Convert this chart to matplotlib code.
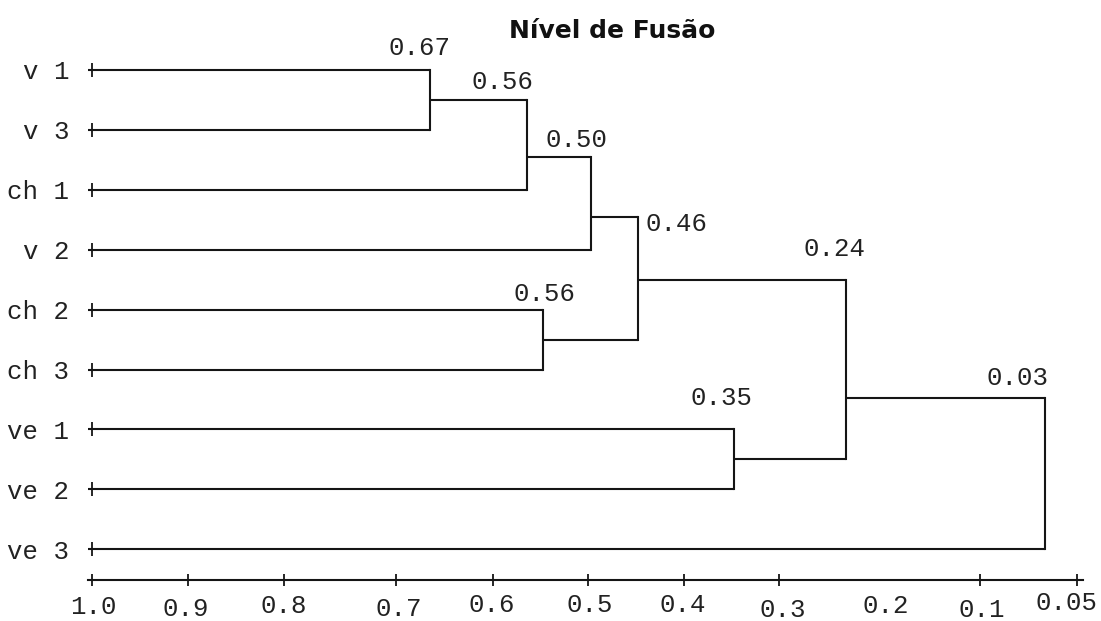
import matplotlib
matplotlib.use('Agg')
import matplotlib.pyplot as plt

# leaves, top to bottom
leaves = ['v 1', 'v 3', 'ch 1', 'v 2', 'ch 2', 'ch 3', 've 1', 've 2', 've 3']

# merges: ids 0-8 are leaves, merge k gets id 9 + k
merge_left = [0, 9, 10, 4, 11, 6, 13, 15]
merge_right = [1, 2, 3, 5, 12, 7, 14, 8]
merge_height = [0.657, 0.558, 0.493, 0.542, 0.446, 0.348, 0.234, 0.0325]
merge_labels = ['0.67', '0.56', '0.50', '0.56', '0.46', '0.35', '0.24', '0.03']
# row where the link of each merge leaves towards its parent
merge_link_row = [0.5, 1.45, 2.45, 4.5, 3.5, 6.5, 5.47, 7.0]

# axis of fusion level (reversed)
tick_values = [1.0, 0.9025, 0.805, 0.691, 0.593, 0.496, 0.399, 0.303, 0.194, 0.098, 0.0]
tick_labels = ['1.0', '0.9', '0.8', '0.7', '0.6', '0.5', '0.4', '0.3', '0.2', '0.1', '0.05']
tick_marked = [True, True, True, True, True, True, True, True, False, True, True]

# styling offsets (pixels)
merge_label_dx = [-10, -24.5, -15, 1.5, 38.5, -12.5, -11.5, -27]
merge_label_dy = [15, 11, 10, 9, -14, 24, 24, 13]
tick_label_dx = [1, -2.5, -0.5, 2.5, -1.5, 1.5, -1.5, 4, 0, 1.7, -10]
tick_label_dy = [34, 36.5, 33.5, 36.5, 32, 32, 32, 37, 33.5, 37, 30]

LINE = '#151515'
LW = 1.5
MONO = ['Liberation Mono', 'DejaVu Sans Mono']
FS = 18.5

fig = plt.figure(figsize=(11.01, 6.21), dpi=100)
ax = fig.add_axes([60 / 1101, 31 / 621, 1035 / 1101, 550 / 621])
ax.set_xlim(1.0325, -0.0183)
ax.set_ylim(8.68, -0.5)

leaf_start = 1.0045
n = len(leaves)
node_x = [leaf_start] * n
node_y = list(range(n))

for l, r, h, row in zip(merge_left, merge_right, merge_height, merge_link_row):
    for c in (l, r):
        ax.plot([node_x[c], h], [node_y[c], node_y[c]], color=LINE, lw=LW,
                solid_capstyle='butt', clip_on=False)
    ax.plot([h, h], [node_y[l], node_y[r]], color=LINE, lw=LW,
            solid_capstyle='projecting', clip_on=False)
    node_x.append(h)
    node_y.append(row)

# merge value labels
for k, (l, h, lab) in enumerate(zip(merge_left, merge_height, merge_labels)):
    ax.annotate(lab, xy=(h, node_y[l]), xytext=(merge_label_dx[k], merge_label_dy[k]),
                textcoords='offset pixels', ha='center', va='baseline',
                fontsize=FS, family=MONO, color='#222222')

# spines: left one sits on the 1.0 level (hidden), bottom is the level axis
ax.spines['left'].set_position(('data', 1.0))
ax.spines['left'].set_visible(False)
ax.spines['right'].set_visible(False)
ax.spines['top'].set_visible(False)
ax.spines['bottom'].set_position(('data', 8.51))
ax.spines['bottom'].set_bounds(leaf_start, -0.006)
ax.spines['bottom'].set_linewidth(LW)
ax.spines['bottom'].set_color(LINE)

# leaf marks and names
ax.plot([1.0] * n, range(n), linestyle='none', marker='|', ms=9.4, mew=1.3,
        color=LINE, clip_on=False)
ax.set_yticks(range(n), leaves)
ax.tick_params(axis='y', length=0, pad=16.5, labelsize=FS, labelcolor='#222222')
for t in ax.get_yticklabels():
    t.set_family(MONO)

ax.set_xticks([v for v, m in zip(tick_values, tick_marked) if m])
ax.tick_params(axis='x', direction='inout', length=8.6, width=1.3, color=LINE,
               labelbottom=False)
for v, lab, dx, dy in zip(tick_values, tick_labels, tick_label_dx, tick_label_dy):
    ax.annotate(lab, xy=(v, 8.51), xytext=(dx, -dy), textcoords='offset pixels',
                ha='center', va='baseline', fontsize=FS, family=MONO,
                color='#222222', annotation_clip=False)

fig.text(612 / 1101, 1 - 38 / 621, 'Nível de Fusão', ha='center', va='baseline',
         fontsize=18, fontweight='bold', family='DejaVu Sans', color='#111111')

fig.savefig('out.png', dpi=100, facecolor='white')
